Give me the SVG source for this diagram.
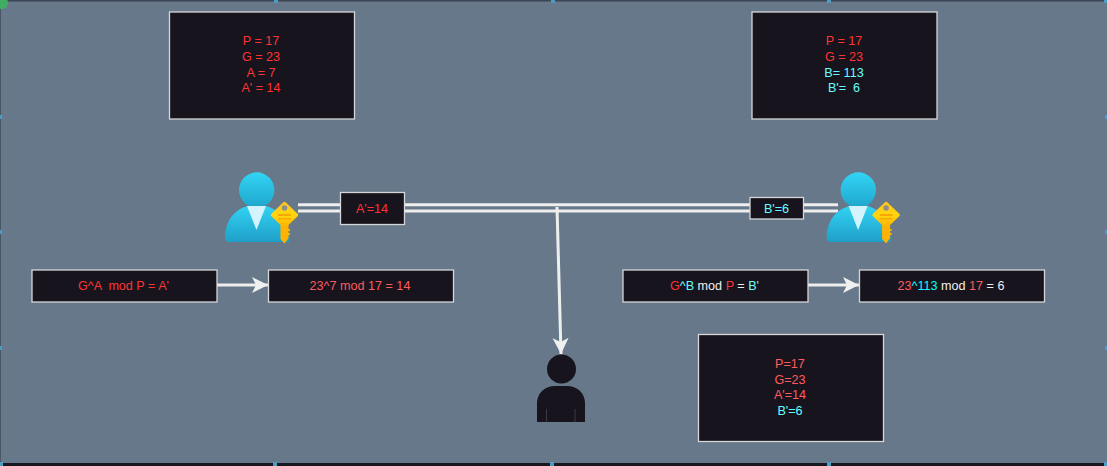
<svg xmlns="http://www.w3.org/2000/svg" xmlns:xlink="http://www.w3.org/1999/xlink" width="1107" height="466" viewBox="0 0 1107 466">
<style>
.box{fill:#18141d;stroke:#d4d6d8;stroke-width:1.3}
.t{font-family:"Liberation Sans",Arial,sans-serif;font-size:12.6px;text-anchor:middle;fill:#ff3333;white-space:pre}
.s{fill:#ff5a5f}.c{fill:#66ffff}.w{fill:#f0f0f0}.n{fill:#00ffff}
.ln{stroke:#eeeeee;stroke-width:3;fill:none}
.h{fill:#4d9cc4}
</style>
<defs>
<marker id="ah" markerUnits="userSpaceOnUse" markerWidth="18" markerHeight="18" refX="16" refY="8" orient="auto"><path d="M0 0L16 8L0 16L4 8Z" fill="#f0f0f0"/></marker>
<linearGradient id="hg" x1="0" y1="0" x2="0" y2="1"><stop offset="0" stop-color="#32d4f5"/><stop offset="1" stop-color="#1fa6cc"/></linearGradient>
<linearGradient id="bg" x1="0" y1="0" x2="0" y2="1"><stop offset="0" stop-color="#32d4f5"/><stop offset="1" stop-color="#1f9fc8"/></linearGradient>
<linearGradient id="kg" x1="0" y1="0" x2="0" y2="1"><stop offset="0" stop-color="#ffc51a"/><stop offset="0.5" stop-color="#ffd70f"/><stop offset="1" stop-color="#ffb000"/></linearGradient>
<g id="user">
<path d="M225 238C225 220 236 205 257 205C278 205 289 220 289 242H229C227 242 225 240 225 238Z" fill="url(#bg)"/>
<circle cx="256.700" cy="190" r="17.700" fill="url(#hg)"/>
<path d="M247 206L266 206L256.500 230Z" fill="#d3f4fd"/>
<path d="M280.500 225H288.500V229H290V231H288.500V233H290V235H288.500V238L284.500 243.500L280.500 239Z" fill="#ffb300"/>
<path d="M284.500 203L297 215L284.500 227L272 215Z" fill="url(#kg)" stroke="url(#kg)" stroke-width="2.500" stroke-linejoin="round"/>
<circle cx="284.500" cy="208" r="2.800" fill="#8f8f88"/>
<path d="M278 214H291V216H278ZM278 218H291V219.500H278Z" fill="#f7a800"/>
</g>
</defs>
<rect id="bgr" width="1107" height="466" fill="#67788a"/>
<g id="frame">
<rect x="0" y="0" width="1107" height="1.500" fill="#3b4656"/>
<rect x="0" y="463" width="1107" height="3" fill="#18161f"/>
<rect x="0" y="0" width="1" height="466" fill="#4a5666"/>
<circle cx="2" cy="3" r="6" fill="#3fae62"/>
<rect class="h" x="274" y="0" width="4" height="3"/>
<rect class="h" x="551" y="0" width="4" height="3"/>
<rect class="h" x="827" y="0" width="4" height="3"/>
<rect class="h" x="1104" y="0" width="3" height="3"/>
<rect class="h" x="0" y="115" width="2" height="4"/>
<rect class="h" x="0" y="230" width="2" height="4"/>
<rect class="h" x="0" y="346" width="2" height="4"/>
<rect class="h" x="1105" y="115" width="2" height="4"/>
<rect class="h" x="1105" y="230" width="2" height="4"/>
<rect class="h" x="1105" y="346" width="2" height="4"/>
<rect class="h" x="0" y="462" width="3" height="4"/>
<rect class="h" x="273" y="462" width="4" height="4"/>
<rect class="h" x="550" y="462" width="4" height="4"/>
<rect class="h" x="827" y="462" width="4" height="4"/>
<rect class="h" x="1104" y="462" width="3" height="4"/>
</g>
<g id="connectors">
<path class="ln" d="M298 204.700H838"/>
<path class="ln" d="M298 211H838"/>
<path class="ln" d="M557 207L561 354" marker-end="url(#ah)"/>
<path class="ln" d="M217 285H268" marker-end="url(#ah)"/>
<path class="ln" d="M808 285H859" marker-end="url(#ah)"/>
</g>
<g id="alice-values"><rect class="box" x="169.500" y="12" width="185" height="107"/>
<text class="t" x="261" y="45">P = 17</text><text class="t" x="261" y="61">G = 23</text><text class="t" x="261" y="77">A = 7</text><text class="t" x="261" y="92">A' = 14</text></g>
<g id="bob-values"><rect class="box" x="752" y="12" width="185" height="107"/>
<text class="t" x="844" y="45">P = 17</text><text class="t" x="844" y="61">G = 23</text><text class="t c" x="844" y="77">B= 113</text><text class="t c" x="844" y="92">B'=  6</text></g>
<g id="alice"><use xlink:href="#user"/></g>
<g id="bob"><use xlink:href="#user" x="601.600"/></g>
<g id="a-msg"><rect class="box" x="340.500" y="192.500" width="64" height="32"/><text class="t" x="372" y="213">A'=14</text></g>
<g id="b-msg"><rect class="box" x="750" y="197.500" width="53.500" height="21.500"/><text class="t c" x="776.500" y="212.500">B'=6</text></g>
<g id="a-formula"><rect class="box" x="32" y="270" width="185" height="32"/><text class="t" x="123.500" y="289.500">G^A  mod P = A'</text></g>
<g id="a-calc"><rect class="box" x="268.500" y="270" width="185" height="32"/><text class="t s" x="360" y="289.500">23^7 mod 17 = 14</text></g>
<g id="b-formula"><rect class="box" x="623" y="270" width="185" height="32"/><text class="t" x="714.500" y="289.500"><tspan>G</tspan><tspan class="c">^B</tspan><tspan class="w"> mod </tspan><tspan>P</tspan><tspan class="w"> = </tspan><tspan class="c">B'</tspan></text></g>
<g id="b-calc"><rect class="box" x="859.500" y="270" width="185" height="32"/><text class="t" x="951" y="289.500"><tspan class="s">23</tspan><tspan class="n">^113</tspan><tspan class="w"> mod </tspan><tspan class="s">17</tspan><tspan class="w"> = 6</tspan></text></g>
<g id="eve"><circle cx="561.500" cy="369" r="14.500" fill="#18141d"/>
<path d="M537 422V403C537 393 545 386 555 386H567C577 386 585 393 585 403V422Z" fill="#18141d"/>
<path d="M546.500 409V422M575 409V422" stroke="#45454f" stroke-width="0.800" fill="none"/></g>
<g id="eve-values"><rect class="box" x="698.500" y="334.500" width="185" height="107"/>
<text class="t s" x="790" y="368">P=17</text><text class="t s" x="790" y="384">G=23</text><text class="t s" x="790" y="399">A'=14</text><text class="t c" x="790" y="415">B'=6</text></g>
</svg>
